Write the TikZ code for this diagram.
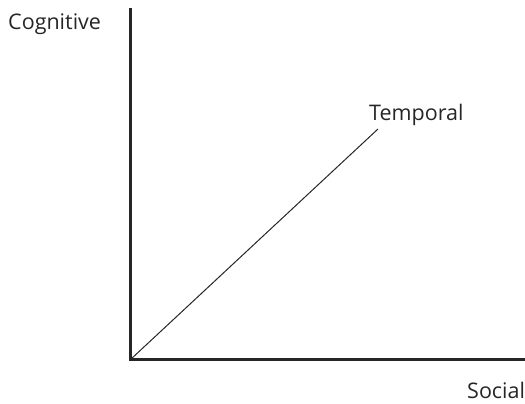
\documentclass[tikz,border=0pt]{standalone}
\usepackage{fontspec}
\setmainfont{Open Sans}
\begin{document}
\begin{tikzpicture}[x=1pt,y=-1pt,
  axis/.style={line width=2.6pt,draw=black!85},
  diag/.style={line width=1pt,draw=black!85},
  lbl/.style={anchor=base west,inner sep=0pt,font=\fontsize{21.5}{25}\selectfont,text=black!85}]
\useasboundingbox (0,0) rectangle (525,404);
\coordinate (o) at (130.5,359.5);
\coordinate (top) at (130.5,8);
\coordinate (right) at (525,359.5);
\coordinate (tend) at (378,129);
\draw[axis] (top) -- (o) -- (right);
\draw[diag] (o) -- (tend);
\node[lbl] (cog) at (8,30) {Cognitive};
\node[lbl] (tem) at (369,120) {Temporal};
\node[lbl] (soc) at (467,398) {Social};
\end{tikzpicture}
\end{document}
